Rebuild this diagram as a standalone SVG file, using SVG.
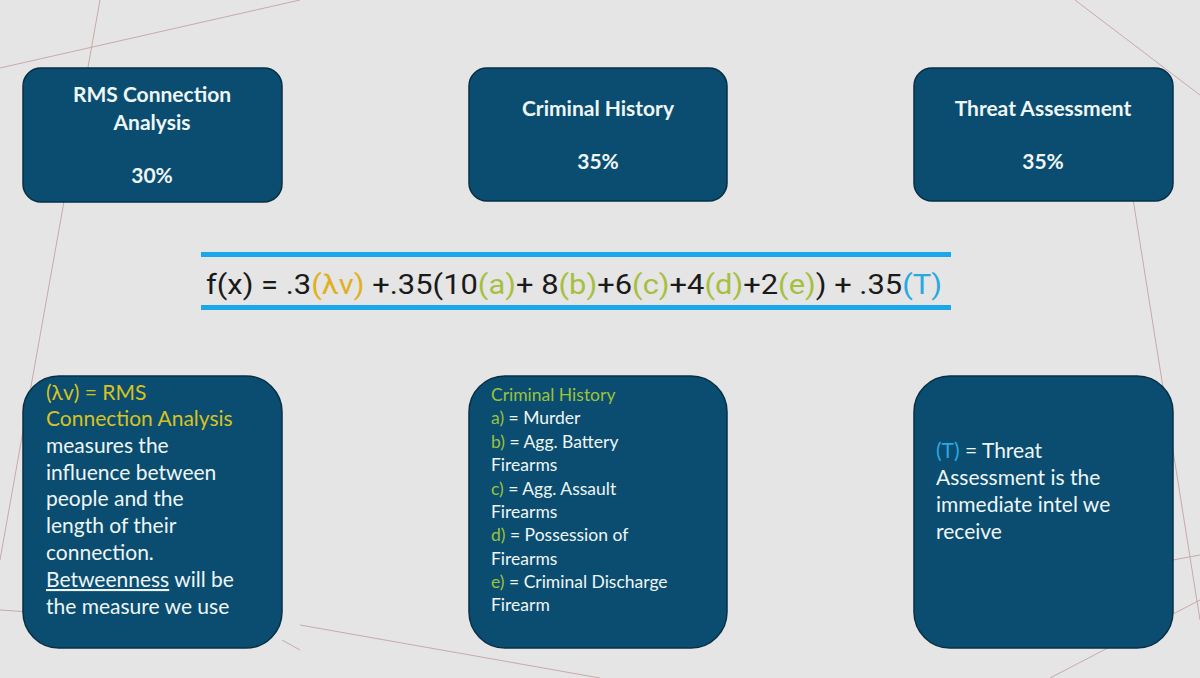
<svg xmlns="http://www.w3.org/2000/svg" width="1200" height="678" viewBox="0 0 1200 678">
<style>
.box{fill:#0b4d70;stroke:#062f45;stroke-width:1.5}
.t{font-family:"Lato","Noto Sans",sans-serif;fill:#eef6f6}
.h{font-weight:bold;font-size:21px;text-anchor:middle}
.y{fill:#d8c21e}.g{fill:#9cc23c}.c{fill:#2aa8e2}
.bg{stroke:#c9a9a9;stroke-width:1;fill:none}
</style>
<rect width="1200" height="678" fill="#e5e5e5"/>
<g class="bg">
<path d="M0 68 L300 0"/><path d="M1075 0 L1200 95"/><path d="M1130 180 L1200 620"/>
<path d="M100 0 L0 560"/><path d="M0 610 L30 612"/><path d="M300 625 L600 678"/>
<path d="M1173 560 L1200 555"/><path d="M282 640 L300 650"/><path d="M1050 678 L1200 600"/>
</g>
<g id="node-rms"><rect class="box" x="23" y="68" width="259" height="134" rx="18"/>
<text class="t h" x="152" y="102">RMS Connection</text><text class="t h" x="152" y="130">Analysis</text><text class="t h" x="152" y="183">30%</text></g>
<g id="node-criminal"><rect class="box" x="469" y="68" width="258" height="133" rx="18"/>
<text class="t h" x="598" y="116">Criminal History</text><text class="t h" x="598" y="169">35%</text></g>
<g id="node-threat"><rect class="box" x="914" y="68" width="259" height="133" rx="18"/>
<text class="t h" x="1043" y="116">Threat Assessment</text><text class="t h" x="1043" y="169">35%</text></g>
<g id="formula">
<rect x="201" y="252" width="750" height="5" fill="#1ba8e8"/><rect x="201" y="305" width="750" height="5" fill="#1ba8e8"/>
<text x="206" y="294" font-family="Roboto,sans-serif" font-size="28" fill="#1a1a1a" textLength="736" lengthAdjust="spacingAndGlyphs">f(x) = .3<tspan fill="#e0b020">(λv)</tspan> +.35(10<tspan fill="#a6bf3e">(a)</tspan>+ 8<tspan fill="#a6bf3e">(b)</tspan>+6<tspan fill="#a6bf3e">(c)</tspan>+4<tspan fill="#a6bf3e">(d)</tspan>+2<tspan fill="#a6bf3e">(e)</tspan>)  + .35<tspan fill="#2aa8e2">(T)</tspan></text>
</g>
<g id="node-rms-desc"><rect class="box" x="23" y="376" width="259" height="272" rx="36"/>
<g class="t" font-size="21">
<text class="y" x="46" y="400">(λv) = RMS</text>
<text class="y" x="46" y="426">Connection Analysis</text>
<text x="46" y="453">measures the</text>
<text x="46" y="480">influence between</text>
<text x="46" y="506">people and the</text>
<text x="46" y="533">length of their</text>
<text x="46" y="560">connection.</text>
<text x="46" y="587"><tspan text-decoration="underline">Betweenness</tspan> will be</text>
<text x="46" y="614">the measure we use</text>
</g></g>
<g id="node-criminal-desc"><rect class="box" x="469" y="376" width="258" height="272" rx="36"/>
<g class="t" font-size="17.5">
<text class="g" x="491" y="401">Criminal History</text>
<text x="491" y="424"><tspan class="g">a)</tspan>  = Murder</text>
<text x="491" y="448"><tspan class="g">b)</tspan> = Agg. Battery</text>
<text x="491" y="471">Firearms</text>
<text x="491" y="495"><tspan class="g">c)</tspan> = Agg. Assault</text>
<text x="491" y="518">Firearms</text>
<text x="491" y="541"><tspan class="g">d)</tspan> = Possession of</text>
<text x="491" y="565">Firearms</text>
<text x="491" y="588"><tspan class="g">e)</tspan> = Criminal Discharge</text>
<text x="491" y="611">Firearm</text>
</g></g>
<g id="node-threat-desc"><rect class="box" x="914" y="376" width="259" height="272" rx="36"/>
<g class="t" font-size="21">
<text x="936" y="458"><tspan class="c">(T)</tspan> = Threat</text>
<text x="936" y="485">Assessment is the</text>
<text x="936" y="512">immediate intel we</text>
<text x="936" y="539">receive</text>
</g></g>
<g id="connectors"/>
</svg>
